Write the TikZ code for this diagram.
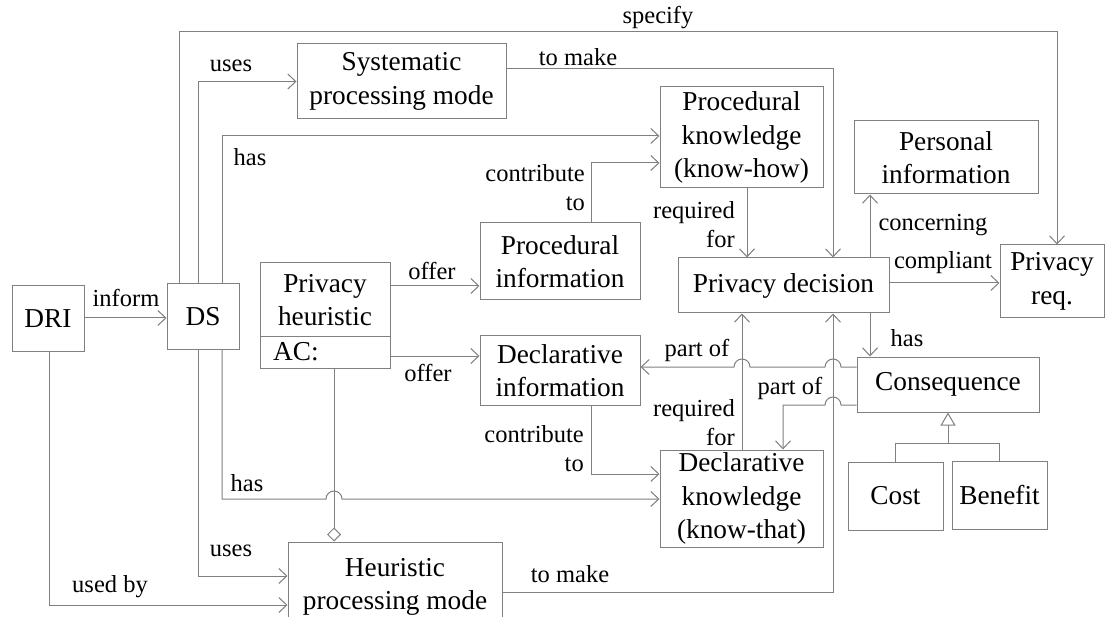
\documentclass[tikz,border=0pt]{standalone}
\usepackage{fontspec}
\setmainfont{Liberation Serif}
\usetikzlibrary{arrows.meta}
\definecolor{lc}{RGB}{128,128,128}
\tikzset{
 box/.style={draw=lc, line width=1pt, inner sep=0pt, align=center, font=\fontsize{27.3}{33.5}\selectfont},
 txt/.style={inner sep=0pt, align=center, font=\fontsize{27.3}{33.5}\selectfont},
 lbl/.style={inner sep=0pt, font=\fontsize{24.5}{29}\selectfont},
 conn/.style={draw=lc, line width=1pt},
 arr/.style={conn, -{Straight Barb[length=8pt,width=15pt,line width=1pt]}},
}
\begin{document}
\begin{tikzpicture}[x=1pt,y=1pt]
\clip (0,0) rectangle (1105,-617);
\fill[white] (0,0) rectangle (1105,-617);
% boxes
\node[box, minimum width=72pt, minimum height=65pt] (DRI) at (48,-318.5) {DRI};
\node[box, minimum width=72pt, minimum height=65pt] (DS) at (203,-316.5) {DS};
\node[box, minimum width=209pt, minimum height=75pt] (Sys) at (401.5,-81.5) {Systematic\\processing mode};
\node[box, minimum width=163pt, minimum height=101pt] (PK) at (741.5,-137.5) {Procedural\\knowledge\\(know-how)};
\node[box, minimum width=184pt, minimum height=73pt] (PerInfo) at (946,-157.5) {Personal\\information};
\node[box, minimum width=104pt, minimum height=73pt] (PrivReq) at (1052,-281.5) {Privacy\\req.};
\node[box, minimum width=130pt, minimum height=105pt] (PH) at (325,-315.5) {};
\node[txt] (PHt) at (325,-300) {Privacy\\heuristic};
\node[txt, anchor=west] (PHac) at (273,-352) {AC:};
\node[box, minimum width=160pt, minimum height=77pt] (ProcInfo) at (560,-261.5) {Procedural\\information};
\node[box, minimum width=211pt, minimum height=55pt] (PD) at (783.5,-285.5) {Privacy decision};
\node[box, minimum width=160pt, minimum height=69pt] (DI) at (560,-370.5) {Declarative\\information};
\node[box, minimum width=182pt, minimum height=55pt] (Conseq) at (948,-384.5) {Consequence};
\node[box, minimum width=163pt, minimum height=97pt] (DK) at (741.5,-498.5) {Declarative\\knowledge\\(know-that)};
\node[box, minimum width=95pt, minimum height=68pt] (Cost) at (895.5,-496) {Cost};
\node[box, minimum width=95pt, minimum height=68pt] (Benefit) at (999.5,-495) {Benefit};
\node[box, minimum width=214pt, minimum height=90pt] (HM) at (395,-587) {Heuristic\\processing mode};
% separator of the heuristic box
\coordinate (sep) at (0,-337);
\draw[conn] (PH.west |- sep) -- (PH.east |- sep);
% coordinates
\coordinate (yInf) at (0,-318);
\coordinate (uT) at (198,-81.5);
\coordinate (spA) at (179,-32);
\coordinate (spB) at (1057,-32);
\coordinate (hT) at (222,-136);
\coordinate (tmT) at (833,-69);
\coordinate (ctT) at (591,-163);
\coordinate (rqT) at (747,0);
\coordinate (of1) at (0,-286);
\coordinate (of2) at (0,-356);
\coordinate (xc) at (870,0);
\coordinate (cp) at (0,-283);
\coordinate (po1) at (0,-367);
\coordinate (po2) at (783,-405);
\coordinate (ctB) at (591,-474);
\coordinate (hB) at (222,-499);
\coordinate (rqB) at (742,0);
\coordinate (uB) at (198,-576);
\coordinate (ub) at (49,-605);
\coordinate (tmB) at (833,-592);
\coordinate (ag) at (334,0);
\coordinate (gy) at (0,-443);
% connectors
\draw[arr] (DRI.east |- yInf) -- (DS.west |- yInf);
\draw[arr] (DS.north -| uT) |- (Sys.west);
\draw[arr] (DS.north -| spA) -- (spA) -- (spB) -- (PrivReq.north -| spB);
\draw[arr] (DS.north -| hT) |- (PK.west |- hT);
\draw[arr] (Sys.east |- tmT) -| (PD.north -| tmT);
\draw[arr] (ProcInfo.north -| ctT) |- (PK.west |- ctT);
\draw[arr] (PK.south -| rqT) -- (PD.north -| rqT);
\draw[arr] (PH.east |- of1) -- (ProcInfo.west |- of1);
\draw[arr] (PH.east |- of2) -- (DI.west |- of2);
\draw[arr] (PD.north -| xc) -- (PerInfo.south -| xc);
\draw[arr] (PD.east |- cp) -- (PrivReq.west |- cp);
\draw[arr] (PD.south -| xc) -- (Conseq.north -| xc);
\draw[arr] (Conseq.west |- po1) -- (841,-367) arc[start angle=0,end angle=180,radius=8pt] -- (750,-367) arc[start angle=0,end angle=180,radius=8pt] -- (DI.east |- po1);
\draw[arr] (Conseq.west |- po2) -- (841,-405) arc[start angle=0,end angle=180,radius=8pt] -- (po2) -- (DK.north -| po2);
\draw[arr] (DI.south -| ctB) |- (DK.west |- ctB);
\draw[arr] (DS.south -| hB) -- (hB) -- (326,-499) arc[start angle=180,end angle=0,radius=8pt] -- (DK.west |- hB);
\draw[arr] (DK.north -| rqB) -- (PD.south -| rqB);
\draw[arr] (DS.south -| uB) |- (HM.west |- uB);
\draw[arr] (DRI.south -| ub) |- (HM.west |- ub);
\draw[arr] (HM.east |- tmB) -| (PD.south -| tmB);
\draw[conn, -{Diamond[open,length=14pt,width=14pt,line width=1pt]}] (PH.south -| ag) -- (HM.north -| ag);
\draw[conn] (Cost.north) |- (Benefit.north |- gy) -- (Benefit.north);
\draw[conn, -{Triangle[open,length=13pt,width=15pt,line width=1pt]}] (Conseq.south |- gy) -- (Conseq.south);
% labels
\node[lbl] (l1) at (126,-298) {inform};
\node[lbl] (l2) at (658,-18) {specify};
\node[lbl] (l3) at (231,-66) {uses};
\node[lbl] (l4) at (250,-157) {has};
\node[lbl] (l5) at (578,-57) {to make};
\node[lbl, align=right, anchor=east] (l6) at (585,-188) {contribute\\to};
\node[lbl] (l7) at (432,-271) {offer};
\node[lbl, align=right, anchor=east] (l8) at (735,-225) {required\\for};
\node[lbl] (l9) at (933,-225) {concerning};
\node[lbl] (l10) at (943,-263) {compliant};
\node[lbl] (l11) at (907,-338) {has};
\node[lbl] (l12) at (697,-350) {part of};
\node[lbl] (l13) at (790,-388) {part of};
\node[lbl] (l14) at (428,-373) {offer};
\node[lbl, align=right, anchor=east] (l15) at (735,-423) {required\\for};
\node[lbl, align=right, anchor=east] (l16) at (584,-449) {contribute\\to};
\node[lbl] (l17) at (247,-483) {has};
\node[lbl] (l18) at (231,-551) {uses};
\node[lbl] (l19) at (110,-587) {used by};
\node[lbl] (l20) at (570,-574) {to make};
\end{tikzpicture}
\end{document}
